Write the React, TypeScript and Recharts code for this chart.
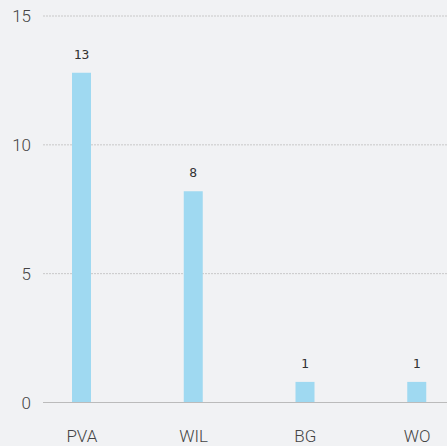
import React from 'react';
import { BarChart, Bar, XAxis, YAxis, CartesianGrid, LabelList } from 'recharts';

const categories = ['PVA', 'WIL', 'BG', 'WO'];
const values = [12.8, 8.2, 0.8, 0.8];
const valueLabels = ['13', '8', '1', '1'];
const yTicks = [0, 5, 10, 15];

const data = categories.map((c, i) => ({ name: c, value: values[i], label: valueLabels[i] }));

const tickFont = { fill: '#444', fontSize: 17, fontFamily: 'Roboto', fontWeight: 300 };

export default function App() {
  return (
    <div style={{ position: 'absolute', left: 0, top: 0, width: 447, height: 446, background: '#f1f2f4', overflow: 'hidden' }}>
      <BarChart width={447} height={446} data={data} margin={{ top: 16, right: 0, bottom: 10, left: 0 }}>
        <CartesianGrid horizontal vertical={false} stroke="#c8c8c8" strokeDasharray="2 1" />
        <XAxis
          dataKey="name"
          padding={{ left: -17, right: -26 }}
          axisLine={{ stroke: '#bbbbbb' }}
          tickLine={false}
          tickMargin={21}
          tick={tickFont}
          height={33.5}
          interval={0}
        />
        <YAxis
          domain={[0, 15]}
          ticks={yTicks}
          width={43}
          axisLine={false}
          tickLine={false}
          tickMargin={6}
          tick={tickFont}
        />
        <Bar dataKey="value" fill="#9fd9f1" barSize={19} isAnimationActive={false}>
          <LabelList
            dataKey="label"
            position="top"
            offset={14}
            style={{ fill: '#333', fontSize: 13, fontFamily: 'DejaVu Sans Mono' }}
          />
        </Bar>
      </BarChart>
    </div>
  );
}
